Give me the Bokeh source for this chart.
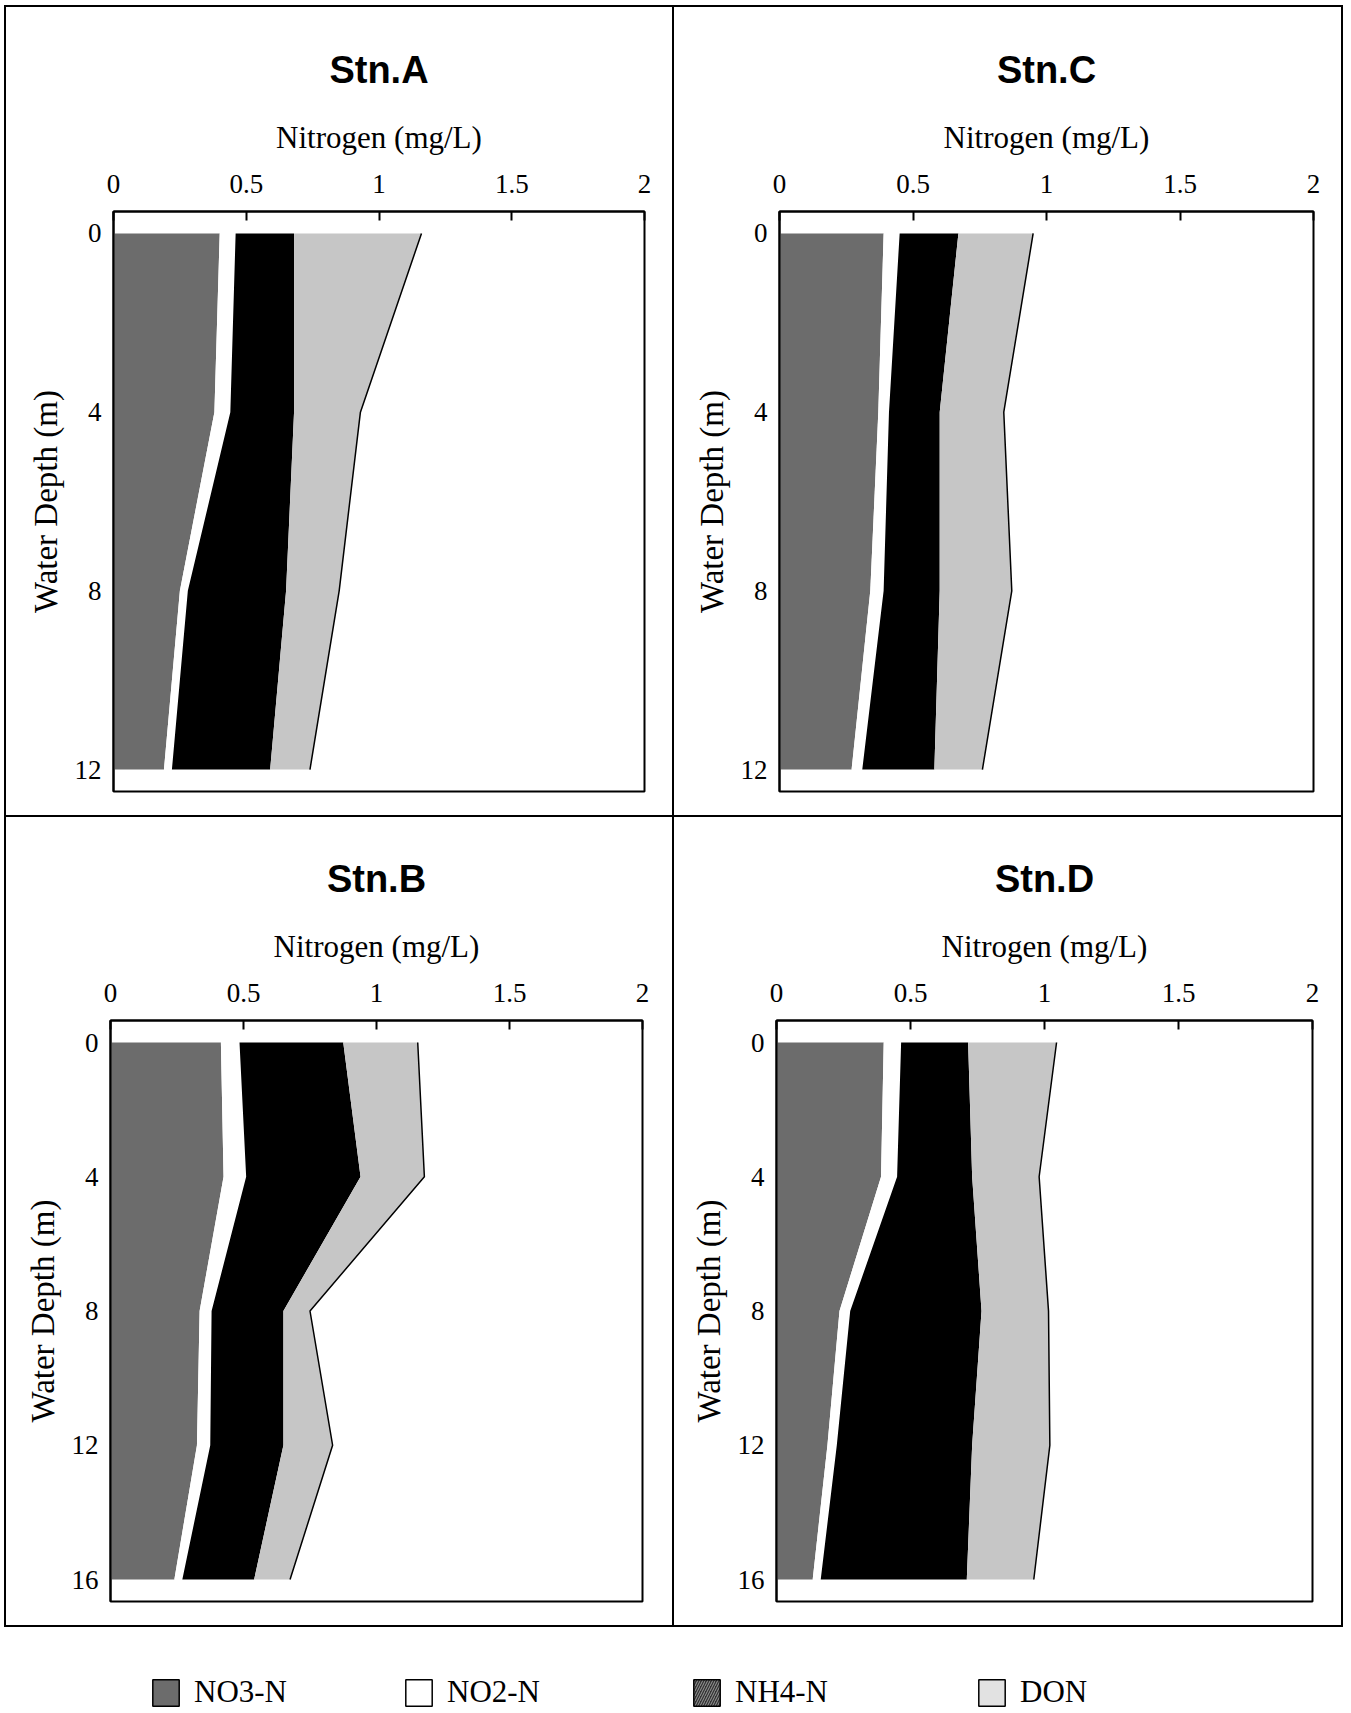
from bokeh.plotting import figure
from bokeh.models import (ColumnDataSource, Range1d, FixedTicker, Div, Legend, LegendItem)
from bokeh.layouts import column, row
from bokeh.transform import stack
from bokeh.embed import file_html
from bokeh.resources import INLINE

# ---------------- data ----------------
components = ["NO3-N", "NO2-N", "NH4-N", "DON"]
x_ticks = [0, 0.5, 1, 1.5, 2]
x_tick_labels = ["0", "0.5", "1", "1.5", "2"]
x_label = "Nitrogen (mg/L)"
y_label = "Water Depth (m)"

depth_A = [0, 4, 8, 12]
no3_A = [0.40, 0.38, 0.25, 0.19]
no2_A = [0.06, 0.06, 0.03, 0.03]
nh4_A = [0.22, 0.24, 0.37, 0.37]
don_A = [0.48, 0.25, 0.20, 0.15]

depth_C = [0, 4, 8, 12]
no3_C = [0.39, 0.37, 0.34, 0.27]
no2_C = [0.06, 0.04, 0.05, 0.04]
nh4_C = [0.22, 0.19, 0.21, 0.27]
don_C = [0.28, 0.24, 0.27, 0.18]

depth_B = [0, 4, 8, 12, 16]
no3_B = [0.415, 0.425, 0.335, 0.325, 0.24]
no2_B = [0.07, 0.085, 0.045, 0.05, 0.03]
nh4_B = [0.39, 0.43, 0.27, 0.275, 0.27]
don_B = [0.28, 0.24, 0.10, 0.185, 0.135]

depth_D = [0, 4, 8, 12, 16]
no3_D = [0.40, 0.39, 0.235, 0.19, 0.135]
no2_D = [0.065, 0.06, 0.04, 0.035, 0.03]
nh4_D = [0.25, 0.28, 0.49, 0.505, 0.545]
don_D = [0.33, 0.25, 0.25, 0.29, 0.25]

# ---------------- style ----------------
FILL = ["#6c6c6c", "#ffffff", "#000000", "#c6c6c6"]
SERIF = "Liberation Serif"
SANS = "Liberation Sans"
CELL_H = 808


def make_panel(title, depth, no3, no2, nh4, don, w, fl, fr, ft, fb):
    dmax = max(depth)
    pad = dmax * 22.0 / 537.0
    p = figure(width=w, height=CELL_H, output_backend="svg", toolbar_location=None,
               tools="", title=title, x_range=Range1d(0, 2),
               y_range=Range1d(dmax + pad, -pad),
               x_axis_location="above", y_axis_location="left",
               min_border_left=fl, min_border_right=fr,
               min_border_top=ft, min_border_bottom=fb)
    p.background_fill_color = "white"
    p.border_fill_color = "white"
    p.outline_line_color = "black"
    p.outline_line_width = 2
    p.xgrid.visible = False
    p.ygrid.visible = False

    p.title.align = "center"
    p.title.text_font = SANS
    p.title.text_font_style = "bold"
    p.title.text_font_size = "38px"
    p.title.text_color = "black"
    p.title.standoff = 52

    src = ColumnDataSource(dict(depth=depth, no3=no3, no2=no2, nh4=nh4, don=don))
    names = ["no3", "no2", "nh4", "don"]
    p.harea_stack(names, y="depth", source=src, fill_color=FILL)
    p.line(x=stack(*names), y="depth", source=src, line_color="black", line_width=1.5)

    xa = p.xaxis[0]
    ya = p.yaxis[0]
    xa.ticker = FixedTicker(ticks=x_ticks)
    xa.major_label_overrides = {t: l for t, l in zip(x_ticks, x_tick_labels)}
    ya.ticker = FixedTicker(ticks=depth)
    for ax in (xa, ya):
        ax.axis_line_color = "black"
        ax.axis_line_width = 2
        ax.major_label_text_font = SERIF
        ax.major_label_text_font_size = "27px"
        ax.major_label_text_color = "black"
        ax.axis_label_text_font = SERIF
        ax.axis_label_text_font_style = "normal"
        ax.axis_label_text_color = "black"
        ax.minor_tick_line_color = None
        ax.major_tick_line_color = "black"
        ax.major_tick_line_width = 2
    xa.axis_label = x_label
    ya.axis_label = y_label
    xa.axis_label_text_font_size = "31px"
    ya.axis_label_text_font_size = "33px"
    xa.major_tick_in = 9
    xa.major_tick_out = 0
    ya.major_tick_in = 0
    ya.major_tick_out = 0
    xa.major_label_standoff = 19
    xa.axis_label_standoff = 17
    ya.major_label_standoff = 12
    ya.axis_label_standoff = 8
    return p


pA = make_panel("Stn.A", depth_A, no3_A, no2_A, nh4_A, don_A, 666, 107, 28, 203, 24)
pC = make_panel("Stn.C", depth_C, no3_C, no2_C, nh4_C, don_C, 667, 105, 28, 204, 24)
pB = make_panel("Stn.B", depth_B, no3_B, no2_B, nh4_B, don_B, 666, 104, 30, 203, 24)
pD = make_panel("Stn.D", depth_D, no3_D, no2_D, nh4_D, don_D, 667, 102, 29, 202, 24)


def rule(w, h):
    return Div(text="", width=w, height=h, margin=0,
               styles={"background-color": "black"})


def gap(w, h):
    return Div(text="", width=w, height=h, margin=0)


# ---------------- legend strip ----------------
pl = figure(width=1339, height=84, output_backend="svg", toolbar_location=None, tools="",
            x_range=Range1d(0, 1), y_range=Range1d(0, 1),
            x_axis_location=None, y_axis_location=None, min_border=0)
pl.outline_line_color = None
pl.xgrid.visible = False
pl.ygrid.visible = False
pl.background_fill_color = "white"
pl.border_fill_color = "white"

leg_fill = ["#6c6c6c", "#ffffff", "#333333", "#e2e2e2"]
leg_hatch = [" ", " ", "/", " "]
leg_x = [145, 398, 686, 971]
nan = float("nan")
for lab, fc, hp, lx in zip(components, leg_fill, leg_hatch, leg_x):
    r = pl.quad(left=[nan], right=[nan], top=[nan], bottom=[nan], fill_color=fc,
                line_color="black", line_width=1.5, hatch_pattern=hp,
                hatch_color="#9a9a9a", hatch_scale=5, hatch_weight=1)
    lg = Legend(items=[LegendItem(label=lab, renderers=[r])], location=(lx, 1),
                orientation="horizontal", glyph_width=33, glyph_height=33,
                label_text_font=SERIF, label_text_font_size="31px",
                label_text_color="black", label_standoff=12,
                padding=0, margin=0, spacing=0, border_line_color=None,
                background_fill_alpha=0)
    pl.add_layout(lg)

top_row = row(rule(2, CELL_H), pA, rule(2, CELL_H), pC, rule(2, CELL_H))
bot_row = row(rule(2, CELL_H), pB, rule(2, CELL_H), pD, rule(2, CELL_H))
body = column(rule(1339, 2), top_row, rule(1339, 2), bot_row, rule(1339, 2), pl)
layout = column(gap(1343, 5), row(gap(4, 1706), body))
open("out.html", "w").write(file_html(layout, INLINE))
